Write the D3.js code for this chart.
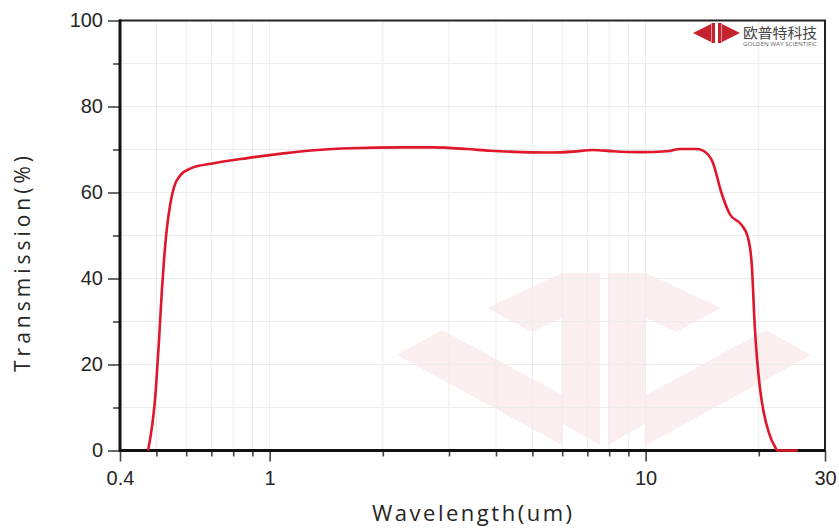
<!DOCTYPE html>
<html>
<head>
<meta charset="utf-8">
<script src="https://cdn.jsdelivr.net/npm/d3@7"></script>
<style>
  body { margin: 0; background: #fff; }
  svg { display: block; font-family: "Open Sans", "DejaVu Sans", sans-serif; }
  .tick text { fill: #262626; }
</style>
</head>
<body>
<svg id="canvas" width="839" height="528"></svg>
<script>
// data
var wavelength = [0.475, 0.498, 0.508, 0.517, 0.524, 0.532, 0.544, 0.557, 0.58, 0.617, 0.711, 0.873, 1.089, 1.341, 1.641,
    2.227, 2.725, 3.355, 3.862, 5.57, 6.41, 7.25, 8.19, 9.66, 11.39, 12.34, 13.69, 14.55, 15.09, 15.9, 16.74,
    18.02, 18.69, 19.15, 19.51, 20.11, 20.6, 21.3, 22.04, 22.45, 25.4];
var transmission = [0, 14, 25.7, 37.3, 44.5, 51, 57.2, 61.3, 64.1, 65.6, 66.8, 68, 69.1, 69.9, 70.3,
    70.5, 70.5, 70.1, 69.7, 69.3, 69.5, 69.9, 69.6, 69.4, 69.6, 70.1, 70.1, 69.1, 67, 60, 55,
    52.4, 49.7, 43.5, 29, 15, 9, 4, 1, 0, 0];

var xMajor = [0.4, 1, 10, 30];
var xMinor = [0.5, 0.6, 0.7, 0.8, 0.9, 2, 3, 4, 5, 6, 7, 8, 9, 20];
var yMajor = [0, 20, 40, 60, 80, 100];
var yMinor = [10, 30, 50, 70, 90];
var xTitle = "Wavelength(um)";
var yTitle = "Transmission(%)";

var LEFT = 120, RIGHT = 825, TOP = 20.5, BOTTOM = 450.5;

var svg = d3.select("#canvas");
var x = d3.scaleLog().domain([0.4, 30]).range([LEFT, RIGHT]);
var y = d3.scaleLinear().domain([0, 100]).range([BOTTOM, TOP]);

// faint watermark logo (decoration), left half mirrored round x=604
var wmHalf = [
    [[-42, 0], [-4, 0], [-4, 172], [-42, 150]],
    [[-117, 35], [-42, 0], [-42, 45], [-72, 59]],
    [[-207, 82], [-162, 57], [-42, 122], [-42, 172]]
];
var wm = svg.append("g").attr("transform", "translate(604,273)");
[1, -1].forEach(function(s){
    wm.append("g").attr("transform", "scale(" + s + ",1)")
        .selectAll("polygon").data(wmHalf).enter().append("polygon")
        .attr("points", function(p){ return p.join(" "); })
        .attr("fill", "#faeeee");
});

// grid
svg.append("g").selectAll("line").data(xMinor.concat([1, 10])).enter().append("line")
    .attr("x1", function(d){ return x(d); }).attr("x2", function(d){ return x(d); })
    .attr("y1", TOP).attr("y2", BOTTOM)
    .attr("stroke", "#ececec").attr("stroke-width", 1);
svg.append("g").selectAll("line").data(yMinor.concat([20, 40, 60, 80])).enter().append("line")
    .attr("x1", LEFT).attr("x2", RIGHT)
    .attr("y1", function(d){ return y(d); }).attr("y2", function(d){ return y(d); })
    .attr("stroke", "#ececec").attr("stroke-width", 1);

// axes
function styleAxis(g){
    g.select(".domain").remove();
    g.selectAll(".tick line").attr("stroke", "#444").attr("stroke-width", 1.6);
}
svg.append("g").attr("transform", "translate(0," + BOTTOM + ")")
    .call(d3.axisBottom(x).tickValues(xMinor).tickSize(6).tickFormat(""))
    .call(styleAxis);
svg.append("g").attr("transform", "translate(0," + BOTTOM + ")")
    .call(d3.axisBottom(x).tickValues(xMajor).tickSize(11).tickPadding(9).tickFormat(function(d){ return d; }))
    .call(styleAxis)
    .selectAll("text").style("font-size", "20px");
svg.append("g").attr("transform", "translate(" + LEFT + ",0)")
    .call(d3.axisLeft(y).tickValues(yMinor).tickSize(7).tickFormat(""))
    .call(styleAxis);
svg.append("g").attr("transform", "translate(" + LEFT + ",0)")
    .call(d3.axisLeft(y).tickValues(yMajor).tickSize(12).tickPadding(5))
    .call(styleAxis)
    .selectAll("text").style("font-size", "20px");

// frame
svg.append("rect").attr("x", LEFT).attr("y", TOP)
    .attr("width", RIGHT - LEFT).attr("height", BOTTOM - TOP)
    .attr("fill", "none").attr("stroke", "#222").attr("stroke-width", 2);
svg.append("line").attr("x1", LEFT).attr("x2", LEFT).attr("y1", TOP - 1).attr("y2", BOTTOM + 1.5)
    .attr("stroke", "#111").attr("stroke-width", 3);
svg.append("line").attr("x1", LEFT).attr("x2", RIGHT).attr("y1", BOTTOM).attr("y2", BOTTOM)
    .attr("stroke", "#111").attr("stroke-width", 3);

// curve
var pts = wavelength.map(function(w, i){ return [w, transmission[i]]; });
var line = d3.line()
    .x(function(d){ return x(d[0]); })
    .y(function(d){ return y(d[1]); })
    .curve(d3.curveMonotoneX);
svg.append("path").datum(pts)
    .attr("d", line)
    .attr("fill", "none")
    .attr("stroke", "#e0162b")
    .attr("stroke-width", 2.6)
    .attr("stroke-linejoin", "round");

// titles
svg.append("text").attr("x", 472).attr("y", 521)
    .attr("text-anchor", "middle").attr("textLength", 200).attr("lengthAdjust", "spacing")
    .style("font-size", "22px").attr("fill", "#262626").text(xTitle);
svg.append("text").attr("transform", "translate(30,264) rotate(-90)")
    .attr("text-anchor", "middle").attr("textLength", 216).attr("lengthAdjust", "spacing")
    .style("font-size", "21px").attr("fill", "#262626").text(yTitle);

// brand logo, top right
var logo = svg.append("g");
var logoHalf = [
    [[693, 33], [711, 24], [711, 42]],
    [[711.5, 23], [715, 23], [715, 43], [711.5, 43]]
];
[0, 1].forEach(function(m){
    logo.append("g").attr("transform", m ? "translate(1433,0) scale(-1,1)" : null)
        .selectAll("polygon").data(logoHalf).enter().append("polygon")
        .attr("points", function(p){ return p.join(" "); })
        .attr("fill", "#c4222c");
});
svg.append("text").attr("x", 743).attr("y", 38)
    .attr("textLength", 74).attr("lengthAdjust", "spacingAndGlyphs")
    .style("font-family", "'Noto Sans CJK SC', sans-serif").style("font-size", "14px")
    .attr("fill", "#444").text("欧普特科技");
svg.append("text").attr("x", 743).attr("y", 46)
    .attr("textLength", 74).attr("lengthAdjust", "spacingAndGlyphs")
    .style("font-size", "5px").attr("fill", "#666").text("GOLDEN WAY SCIENTIFIC");
</script>
</body>
</html>
